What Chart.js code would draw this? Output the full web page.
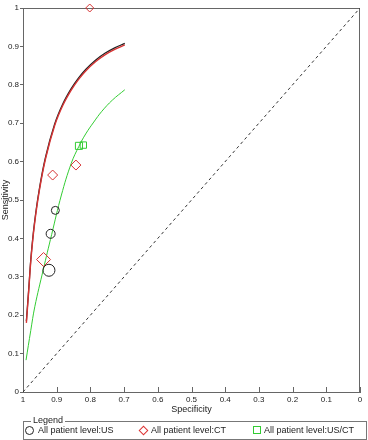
<!DOCTYPE html>
<html>
<head>
<meta charset="utf-8">
<script src="https://cdn.jsdelivr.net/npm/chart.js@4.4.1/dist/chart.umd.min.js"></script>
<style>
  body { margin: 0; background: #fff; font-family: 'Liberation Sans', Arial, sans-serif; }
  #wrap { position: relative; width: 368px; height: 440px; }
  #chart { position: absolute; left: 0; top: 0; }
  .box { position: absolute; left: 23px; top: 421px; width: 342px; height: 17px; border: 1px solid #777; }
  .ttl { position: absolute; left: 31px; top: 415px; font-size: 9px; background: #fff; padding: 0 2px; color: #222; line-height: 11px; }
  .item { position: absolute; top: 425px; font-size: 9px; color: #222; line-height: 11px; }
  .sym { position: absolute; box-sizing: border-box; }
</style>
</head>
<body>
<div id="wrap">
  <canvas id="chart" width="368" height="416"></canvas>
  <div class="box"></div>
  <div class="ttl">Legend</div>
  <div class="sym" style="left:25px;top:426px;width:9px;height:9px;border:1px solid #222;border-radius:50%;"></div>
  <div class="item" style="left:38px;">All patient level:US</div>
  <div class="sym" style="left:140px;top:427px;width:7px;height:7px;border:1px solid #d33;transform:rotate(45deg);"></div>
  <div class="item" style="left:151px;">All patient level:CT</div>
  <div class="sym" style="left:253px;top:426px;width:8px;height:8px;border:1px solid #3c3;"></div>
  <div class="item" style="left:264px;">All patient level:US/CT</div>
</div>
<script>
// study points (specificity, sensitivity)
const usSpec = [0.904, 0.918, 0.923];
const usSens = [0.473, 0.412, 0.317];
const ctSpec = [0.802, 0.912, 0.843, 0.939];
const ctSens = [1.0, 0.565, 0.591, 0.345];
const usctSpec = [0.834, 0.821];
const usctSens = [0.641, 0.643];

// SROC curves
const usCurveSpec = [0.990, 0.983, 0.976, 0.966, 0.952, 0.933, 0.906, 0.882, 0.857, 0.835, 0.814, 0.785, 0.757, 0.728, 0.698];
const usCurveSens = [0.185, 0.268, 0.354, 0.440, 0.526, 0.612, 0.698, 0.750, 0.790, 0.818, 0.840, 0.864, 0.882, 0.896, 0.908];
const ctCurveSpec = [0.990, 0.983, 0.976, 0.966, 0.952, 0.933, 0.906, 0.882, 0.857, 0.835, 0.814, 0.785, 0.757, 0.728, 0.698];
const ctCurveSens = [0.180, 0.264, 0.350, 0.436, 0.522, 0.608, 0.694, 0.746, 0.786, 0.814, 0.836, 0.860, 0.878, 0.892, 0.904];
const usctCurveSpec = [0.991, 0.977, 0.965, 0.940, 0.915, 0.886, 0.857, 0.834, 0.814, 0.790, 0.766, 0.735, 0.698];
const usctCurveSens = [0.083, 0.160, 0.222, 0.318, 0.410, 0.513, 0.595, 0.640, 0.672, 0.703, 0.731, 0.760, 0.787];

const diagSpec = [1, 0];
const diagSens = [0, 1];

const pts = (xs, ys) => xs.map((x, i) => ({ x: x, y: ys[i] }));

const COLOR_US = '#222222';
const COLOR_CT = '#d63333';
const COLOR_USCT = '#33cc33';
const COLOR_AXIS = '#666666';
const TICK_FONT = { family: 'Liberation Sans', size: 8 };
const TITLE_FONT = { family: 'Liberation Sans', size: 9 };

const framePlugin = {
  id: 'frame',
  beforeDatasetsDraw: (chart) => {
    const { ctx, chartArea: { left, right, top, bottom }, scales: { x } } = chart;
    ctx.save();
    ctx.strokeStyle = COLOR_AXIS;
    ctx.lineWidth = 1;
    ctx.beginPath();
    ctx.moveTo(left, top + 0.5);
    ctx.lineTo(right, top + 0.5);
    ctx.moveTo(right - 0.5, top);
    ctx.lineTo(right - 0.5, bottom);
    // inward ticks on the specificity axis
    x.ticks.forEach(t => {
      const px = Math.round(x.getPixelForValue(t.value)) + 0.5;
      ctx.moveTo(px, bottom - 5);
      ctx.lineTo(px, bottom + 1);
    });
    ctx.stroke();
    ctx.restore();
  }
};

const curve = (data, color, width, order) => ({
  type: 'line',
  data: data,
  borderColor: color,
  borderWidth: width,
  pointRadius: 0,
  tension: 0.4,
  order: order
});

new Chart(document.getElementById('chart'), {
  type: 'scatter',
  plugins: [framePlugin],
  data: {
    datasets: [
      {
        label: 'All patient level:US',
        data: pts(usSpec, usSens),
        pointStyle: 'circle',
        pointRadius: [4, 4.5, 6],
        borderColor: COLOR_US,
        backgroundColor: 'rgba(0,0,0,0)',
        borderWidth: 1,
        clip: false,
        order: 0
      },
      {
        label: 'All patient level:CT',
        data: pts(ctSpec, ctSens),
        pointStyle: 'rectRot',
        pointRadius: [4, 5, 5, 7],
        borderColor: COLOR_CT,
        backgroundColor: 'rgba(0,0,0,0)',
        borderWidth: 1,
        clip: false,
        order: 0
      },
      {
        label: 'All patient level:US/CT',
        data: pts(usctSpec, usctSens),
        pointStyle: 'rect',
        pointRadius: [5, 4.5],
        borderColor: COLOR_USCT,
        backgroundColor: 'rgba(0,0,0,0)',
        borderWidth: 1,
        clip: false,
        order: 0
      },
      curve(pts(ctCurveSpec, ctCurveSens), COLOR_CT, 1.4, 1),
      curve(pts(usCurveSpec, usCurveSens), COLOR_US, 1.3, 2),
      curve(pts(usctCurveSpec, usctCurveSens), COLOR_USCT, 1, 1),
      {
        type: 'line',
        data: pts(diagSpec, diagSens),
        borderColor: '#333333',
        borderWidth: 1,
        borderDash: [3, 3],
        pointRadius: 0,
        order: 3
      }
    ]
  },
  options: {
    responsive: false,
    animation: false,
    layout: { padding: { top: 5, right: 2, left: 0, bottom: 0 } },
    plugins: {
      legend: { display: false },
      tooltip: { enabled: false }
    },
    scales: {
      x: {
        type: 'linear',
        reverse: true,
        min: 0,
        max: 1,
        afterFit: (s) => { s.height = 24; },
        grid: { drawOnChartArea: false, drawTicks: false },
        border: { color: COLOR_AXIS },
        ticks: {
          stepSize: 0.1,
          color: '#222',
          font: TICK_FONT,
          padding: 3,
          maxRotation: 0,
          autoSkip: false,
          callback: (v) => String(Number(v.toFixed(1)))
        },
        title: { display: true, text: 'Specificity', color: '#222', font: TITLE_FONT, padding: { top: 0, bottom: 1 } }
      },
      y: {
        type: 'linear',
        min: 0,
        max: 1,
        afterFit: (s) => { s.width = 23; },
        grid: { drawOnChartArea: false, drawTicks: true, tickLength: 3, color: COLOR_AXIS },
        border: { color: COLOR_AXIS },
        ticks: {
          stepSize: 0.1,
          color: '#222',
          font: TICK_FONT,
          padding: 1,
          autoSkip: false,
          callback: (v) => String(Number(v.toFixed(1)))
        },
        title: { display: true, text: 'Sensitivity', color: '#222', font: TITLE_FONT, padding: { top: 0, bottom: 0 } }
      }
    }
  }
});
</script>
</body>
</html>
